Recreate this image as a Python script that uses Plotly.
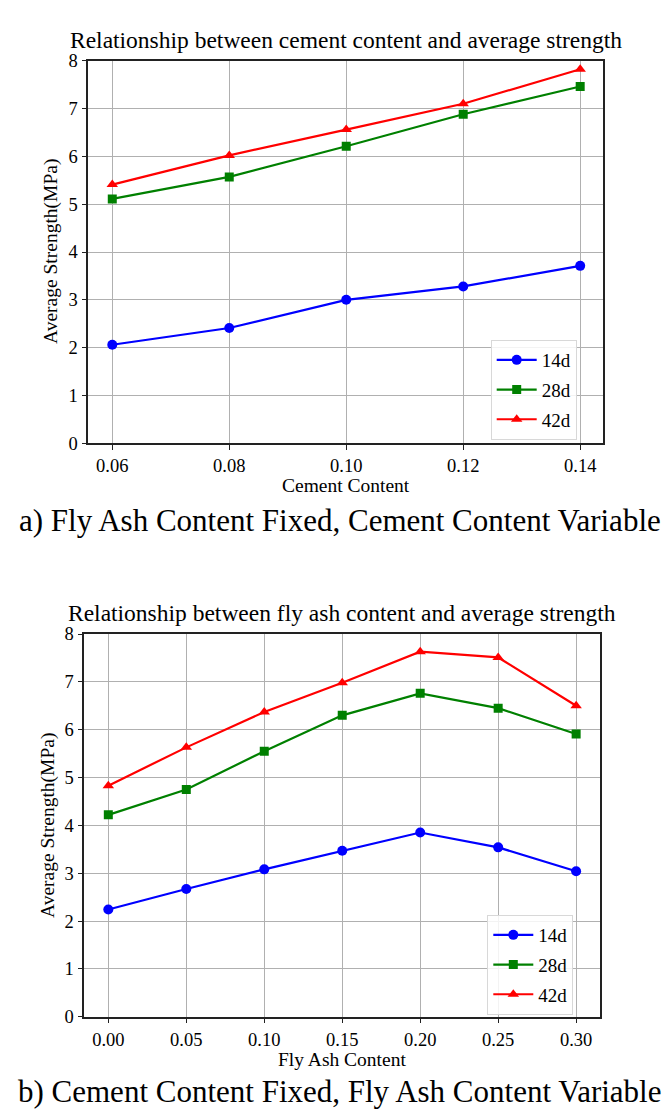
import plotly.graph_objects as go

# ---- data ----
cement_x = [0.06, 0.08, 0.10, 0.12, 0.14]
cement_14d = [2.06, 2.41, 3.00, 3.28, 3.71]
cement_28d = [5.11, 5.57, 6.21, 6.88, 7.46]
cement_42d = [5.41, 6.02, 6.56, 7.10, 7.82]

flyash_x = [0.00, 0.05, 0.10, 0.15, 0.20, 0.25, 0.30]
flyash_14d = [2.24, 2.67, 3.08, 3.47, 3.85, 3.54, 3.04]
flyash_28d = [4.22, 4.75, 5.55, 6.30, 6.76, 6.45, 5.91]
flyash_42d = [4.83, 5.63, 6.37, 6.98, 7.63, 7.51, 6.50]

series_names = ["14d", "28d", "42d"]
series_colors = ["#0000ff", "#008000", "#ff0000"]
series_symbols = ["circle", "square", "triangle-up"]
series_sizes = [10, 9, 10]

cement_ticks = ["0.06", "0.08", "0.10", "0.12", "0.14"]
flyash_ticks = ["0.00", "0.05", "0.10", "0.15", "0.20", "0.25", "0.30"]
y_ticks = [0, 1, 2, 3, 4, 5, 6, 7, 8]

titles = ["Relationship between cement content and average strength",
          "Relationship between fly ash content and average strength"]
xtitles = ["Cement Content", "Fly Ash Content"]
ytitle = "Average Strength(MPa)"
captions = ["a) Fly Ash Content Fixed, Cement Content Variable",
            "b) Cement Content Fixed, Fly Ash Content Variable"]

FONT = "Liberation Serif, Times New Roman, serif"
OFF = 8  # page body margin
W, H = 671 - OFF, 1110 - OFF

fig = go.Figure()

def fx(p):
    return (p - OFF) / W

def fy(p):
    return 1 - (p - OFF) / H

top_vals = [cement_14d, cement_28d, cement_42d]
bot_vals = [flyash_14d, flyash_28d, flyash_42d]

for i in range(3):
    fig.add_trace(go.Scatter(
        x=cement_x, y=top_vals[i], name=series_names[i], mode="lines+markers",
        line=dict(color=series_colors[i], width=2.2),
        marker=dict(color=series_colors[i], symbol=series_symbols[i], size=series_sizes[i]),
        xaxis="x", yaxis="y", legend="legend", legendgroup="a" + str(i)))
for i in range(3):
    fig.add_trace(go.Scatter(
        x=flyash_x, y=bot_vals[i], name=series_names[i], mode="lines+markers",
        line=dict(color=series_colors[i], width=2.2),
        marker=dict(color=series_colors[i], symbol=series_symbols[i], size=series_sizes[i]),
        xaxis="x2", yaxis="y2", legend="legend2", legendgroup="b" + str(i)))

axis_common = dict(showline=True, linecolor="#222222", linewidth=1.5, mirror=True,
                   ticks="outside", ticklen=5, tickcolor="#222222", tickwidth=1.2,
                   showgrid=True, gridcolor="#b0b0b0", gridwidth=1, zeroline=False,
                   automargin=False,
                   tickfont=dict(family=FONT, size=18.5, color="black"))

legend_common = dict(xanchor="left", yanchor="top",
                     bgcolor="rgba(255,255,255,0.85)", bordercolor="#d8d8d8", borderwidth=1,
                     font=dict(family=FONT, size=19, color="black"), tracegroupgap=2,
                     itemwidth=40)

fig.update_layout(
    template="none",
    width=W, height=H, margin=dict(l=0, r=0, t=0, b=0, pad=0),
    paper_bgcolor="white", plot_bgcolor="white",
    font=dict(family=FONT, color="black"),
    xaxis=dict(domain=[fx(88.3), fx(603)], range=[0.0559, 0.1439], anchor="y",
               tickvals=cement_x, ticktext=cement_ticks, **axis_common),
    yaxis=dict(domain=[fy(443.3), fy(60.7)], range=[0, 8], anchor="x",
               tickvals=y_ticks, **axis_common),
    xaxis2=dict(domain=[fx(84.3), fx(600)], range=[-0.0154, 0.3153], anchor="y2",
                tickvals=flyash_x, ticktext=flyash_ticks, **axis_common),
    yaxis2=dict(domain=[fy(1016.7), fy(634)], range=[0, 8], anchor="x2",
                tickvals=y_ticks, **axis_common),
    legend=dict(x=fx(490.7), y=fy(340), **legend_common),
    legend2=dict(x=fx(487.3), y=fy(915), **legend_common),
    showlegend=True,
)

def label(text, x, y, size, angle=0):
    return dict(text=text, x=fx(x), y=fy(y), xref="paper", yref="paper",
                xanchor="center", yanchor="middle", showarrow=False,
                textangle=angle, font=dict(family=FONT, size=size, color="black"))

ann = [
    label(titles[0], 345.5, 40, 23.5),
    label(titles[1], 341.7, 613, 23.5),
    label(xtitles[0], 345.5, 486, 19.5),
    label(xtitles[1], 342, 1059, 19.5),
    label(ytitle, 51, 252, 19.5, -90),
    label(ytitle, 48, 826, 19.5, -90),
    label(captions[0], 339.5, 520, 31),
    label(captions[1], 339.5, 1091, 31),
]
fig.update_layout(annotations=ann)

fig.write_html("out.html")
